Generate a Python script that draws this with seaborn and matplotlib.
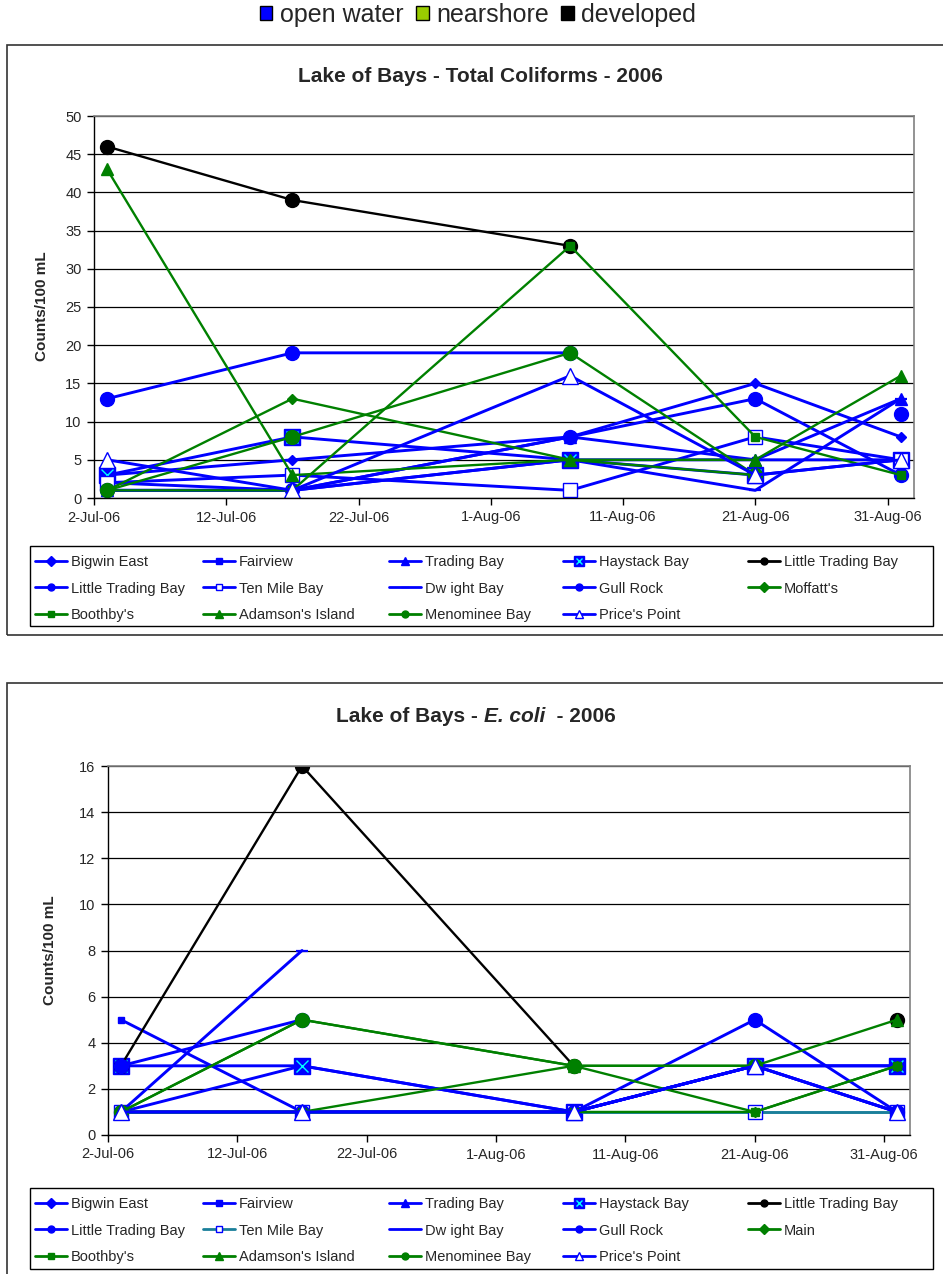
import matplotlib
matplotlib.use('Agg')
import matplotlib.pyplot as plt
import matplotlib.dates as mdates
from matplotlib.lines import Line2D
from matplotlib.patches import Patch, Rectangle
import numpy as np
import pandas as pd
import seaborn as sns

# ====================================
# DATA
# ====================================

nan = np.nan

SAMPLE_DATES = pd.to_datetime(['2006-07-03', '2006-07-17', '2006-08-07',
                               '2006-08-21', '2006-09-01'])

TICK_DATES = pd.to_datetime(['2006-07-02', '2006-07-12', '2006-07-22', '2006-08-01',
                             '2006-08-11', '2006-08-21', '2006-08-31'])

SITES_TC = ['Bigwin East', 'Fairview', 'Trading Bay', 'Haystack Bay', 'Little Trading Bay',
            'Little Trading Bay', 'Ten Mile Bay', 'Dw ight Bay', 'Gull Rock', "Moffatt's",
            "Boothby's", "Adamson's Island", 'Menominee Bay', "Price's Point"]

SITES_EC = ['Bigwin East', 'Fairview', 'Trading Bay', 'Haystack Bay', 'Little Trading Bay',
            'Little Trading Bay', 'Ten Mile Bay', 'Dw ight Bay', 'Gull Rock', 'Main',
            "Boothby's", "Adamson's Island", 'Menominee Bay', "Price's Point"]

CATEGORIES = ['open water', 'nearshore', 'developed']

# Total coliforms (counts/100 mL)
tc_bigwin_east = [3, 5, 8, 15, 8]
tc_fairview = [2, 1, 5, 5, 5]
tc_trading_bay = [1, 1, 8, 5, 13]
tc_haystack_bay = [3, 8, 5, 3, 5]
tc_little_trading_dev = [46, 39, 33, nan, nan]
tc_little_trading_bay = [13, 19, 19, nan, 11]
tc_ten_mile_bay = [2, 3, 1, 8, 5]
tc_dwight_bay = [1, 1, 5, 1, 13]
tc_gull_rock = [1, 1, 8, 13, 3]
tc_moffatts = [1, 13, 5, 3, nan]
tc_boothbys = [1, 1, 33, 8, 3]
tc_adamsons_island = [43, 3, 5, 5, 16]
tc_menominee_bay = [1, 8, 19, 3, nan]
tc_prices_point = [5, 1, 16, 3, 5]

# E. coli (counts/100 mL)
ec_bigwin_east = [1, 1, 1, 3, 3]
ec_fairview = [5, 1, 1, 3, 1]
ec_trading_bay = [1, 3, 1, 3, 1]
ec_haystack_bay = [3, 3, 1, 3, 3]
ec_little_trading_dev = [3, 16, 3, nan, 5]
ec_little_trading_bay = [3, 5, nan, nan, nan]
ec_ten_mile_bay = [1, 1, 1, 1, 1]
ec_dwight_bay = [1, 8, nan, nan, nan]
ec_gull_rock = [1, 1, 1, 5, 1]
ec_main = [1, 5, 3, 1, 3]
ec_boothbys = [1, 1, 1, 1, 3]
ec_adamsons_island = [1, 1, 3, 3, 5]
ec_menominee_bay = [1, 5, 3, 3, nan]
ec_prices_point = [1, 1, 1, 3, 1]

TC_SERIES = [tc_bigwin_east, tc_fairview, tc_trading_bay, tc_haystack_bay,
             tc_little_trading_dev, tc_little_trading_bay, tc_ten_mile_bay, tc_dwight_bay,
             tc_gull_rock, tc_moffatts, tc_boothbys, tc_adamsons_island,
             tc_menominee_bay, tc_prices_point]

EC_SERIES = [ec_bigwin_east, ec_fairview, ec_trading_bay, ec_haystack_bay,
             ec_little_trading_dev, ec_little_trading_bay, ec_ten_mile_bay, ec_dwight_bay,
             ec_gull_rock, ec_main, ec_boothbys, ec_adamsons_island,
             ec_menominee_bay, ec_prices_point]

# ====================================
# STYLES
# ====================================

BLUE = '#0000FF'
GREEN = '#008000'
BLACK = '#000000'
TEAL = '#1A7F9A'
CAT_COLORS = [BLUE, '#99CC00', BLACK]

COLORS = [BLUE, BLUE, BLUE, BLUE, BLACK, BLUE, BLUE, BLUE, BLUE,
          GREEN, GREEN, GREEN, GREEN, BLUE]
MARKERS = ['D', 's', '^', 's', 'o', 'o', 's', '_', 'o', 'D', 's', '^', 'o', '^']
SIZES = [5.5, 5, 8, 11, 10, 10, 9.5, 8, 10, 5.5, 6, 8.5, 10, 11]
LEG_SIZES = [5, 5, 6, 7, 5, 5, 5, 6, 5, 5, 5, 6, 5, 6]
HOLLOW = [6, 13]
HAYSTACK = 3

# legend column x (handle start), in pixels
LEG_COL_X = [35, 203, 389, 563, 748]

sns.set_style('white')
plt.rcParams['font.family'] = ['Liberation Sans', 'DejaVu Sans']

W, H = 943, 1274
fig = plt.figure(figsize=(W / 100, H / 100), dpi=100)


def fx(px):
    return px / W


def fy(py):
    return 1 - py / H


def draw_site(ax, values, i, line_color):
    s = pd.Series(values, index=SAMPLE_DATES, dtype=float)
    runs = s.isna().cumsum()[s.notna()]
    face = 'white' if i in HOLLOW else COLORS[i]
    lw = 2.1 if COLORS[i] == BLUE else 1.7
    for _, run in s.dropna().groupby(runs):
        sns.lineplot(x=run.index, y=run.values, ax=ax, color=line_color,
                     marker=MARKERS[i], markersize=SIZES[i],
                     markerfacecolor=face, markeredgecolor=COLORS[i],
                     markeredgewidth=1.6 if MARKERS[i] == '_' else 1.0,
                     linewidth=lw, legend=False)
        if i == HAYSTACK:
            sns.lineplot(x=run.index, y=run.values, ax=ax, color='cyan',
                         marker='x', markersize=8, markeredgecolor='cyan',
                         markeredgewidth=1.0, linewidth=0, legend=False)


def legend_handles(line_colors):
    handles = []
    for i in range(len(COLORS)):
        face = 'white' if i in HOLLOW else COLORS[i]
        h = Line2D([], [], color=line_colors[i], lw=2, marker=MARKERS[i],
                   markersize=LEG_SIZES[i], markerfacecolor=face,
                   markeredgecolor=COLORS[i])
        if i == HAYSTACK:
            h = (h, Line2D([], [], lw=0, marker='x', markersize=5,
                           markeredgecolor='cyan', markeredgewidth=1))
        handles.append(h)
    return handles


def site_legend(handles, labels, top, bottom):
    fig.add_artist(Rectangle((fx(30), fy(bottom)), fx(933) - fx(30), fy(top) - fy(bottom),
                             transform=fig.transFigure, fill=False,
                             edgecolor='black', linewidth=1.0))
    for c in range(5):
        idx = [r * 5 + c for r in range(3) if r * 5 + c < len(labels)]
        fig.legend([handles[k] for k in idx], [labels[k] for k in idx],
                   loc='upper left', bbox_to_anchor=(fx(LEG_COL_X[c]), fy(top + 9)),
                   frameon=False, fontsize=10.5, handlelength=2.2,
                   handletextpad=0.25, labelspacing=0.86, borderpad=0,
                   borderaxespad=0)


def style_axes(ax, ymax, ystep):
    ax.set_ylim(0, ymax)
    ax.set_yticks(np.arange(0, ymax + 1, ystep))
    ax.set_xlim(pd.Timestamp('2006-07-02'), pd.Timestamp('2006-09-02'))
    ax.set_xticks(TICK_DATES)
    ax.xaxis.set_major_formatter(mdates.DateFormatter('%-d-%b-%y'))
    ax.grid(axis='y', color='black', linewidth=0.9)
    ax.grid(axis='x', visible=False)
    ax.set_axisbelow(True)
    for side in ['top', 'right']:
        ax.spines[side].set_color('#808080')
        ax.spines[side].set_linewidth(1.2)
    for side in ['left', 'bottom']:
        ax.spines[side].set_color('black')
        ax.spines[side].set_linewidth(1.0)
    ax.tick_params(axis='both', direction='out', length=5, width=1,
                   color='black', labelsize=10.5, pad=4, bottom=True, left=True)
    ax.set_xlabel('')
    ax.set_ylabel('')


# ====================================
# CATEGORY LEGEND
# ====================================

cat_handles = [Patch(facecolor=c, edgecolor='black', linewidth=1) for c in CAT_COLORS]
fig.legend(cat_handles, CATEGORIES, loc='center', bbox_to_anchor=(fx(478), fy(15)),
           ncol=3, frameon=False, fontsize=18, handlelength=0.5, handleheight=0.5,
           handletextpad=0.3, columnspacing=0.5)

# ====================================
# CHART FRAMES
# ====================================

fig.add_artist(Rectangle((fx(7), fy(635)), fx(950), fy(45) - fy(635),
                         transform=fig.transFigure, fill=False,
                         edgecolor='#333333', linewidth=1.2))
fig.add_artist(Rectangle((fx(7), fy(1290)), fx(950), fy(683) - fy(1290),
                         transform=fig.transFigure, fill=False,
                         edgecolor='#333333', linewidth=1.2))

# ====================================
# TOTAL COLIFORMS
# ====================================

ax1 = fig.add_axes([fx(94), fy(498), fx(914) - fx(94), fy(116) - fy(498)])
for i, vals in enumerate(TC_SERIES):
    draw_site(ax1, vals, i, COLORS[i])
style_axes(ax1, 50, 5)

fig.text(fx(480), fy(77), 'Lake of Bays - Total Coliforms - 2006', ha='center',
         va='center', fontsize=15, fontweight='bold')
fig.text(fx(42), fy(306), 'Counts/100 mL', rotation=90, ha='center', va='center',
         fontsize=11, fontweight='bold')

site_legend(legend_handles(COLORS), SITES_TC, 546, 626)

# ====================================
# E. COLI
# ====================================

ec_line_colors = list(COLORS)
ec_line_colors[6] = TEAL

ax2 = fig.add_axes([fx(108), fy(1135), fx(910) - fx(108), fy(766) - fy(1135)])
for i, vals in enumerate(EC_SERIES):
    draw_site(ax2, vals, i, ec_line_colors[i])
style_axes(ax2, 16, 2)

t1 = fig.text(fx(336), fy(716), 'Lake of Bays - ', ha='left', va='center',
              fontsize=15, fontweight='bold')
t2 = ax2.annotate('E. coli', xy=(1, 0), xycoords=t1, ha='left', va='bottom',
                  fontsize=15, fontweight='bold', fontstyle='italic',
                  annotation_clip=False)
ax2.annotate('  - 2006', xy=(1, 0), xycoords=t2, ha='left', va='bottom',
             fontsize=15, fontweight='bold', annotation_clip=False)
fig.text(fx(50), fy(950), 'Counts/100 mL', rotation=90, ha='center', va='center',
         fontsize=11, fontweight='bold')

site_legend(legend_handles(ec_line_colors), SITES_EC, 1188, 1269)

plt.savefig('out.png', dpi=100)
plt.close()
